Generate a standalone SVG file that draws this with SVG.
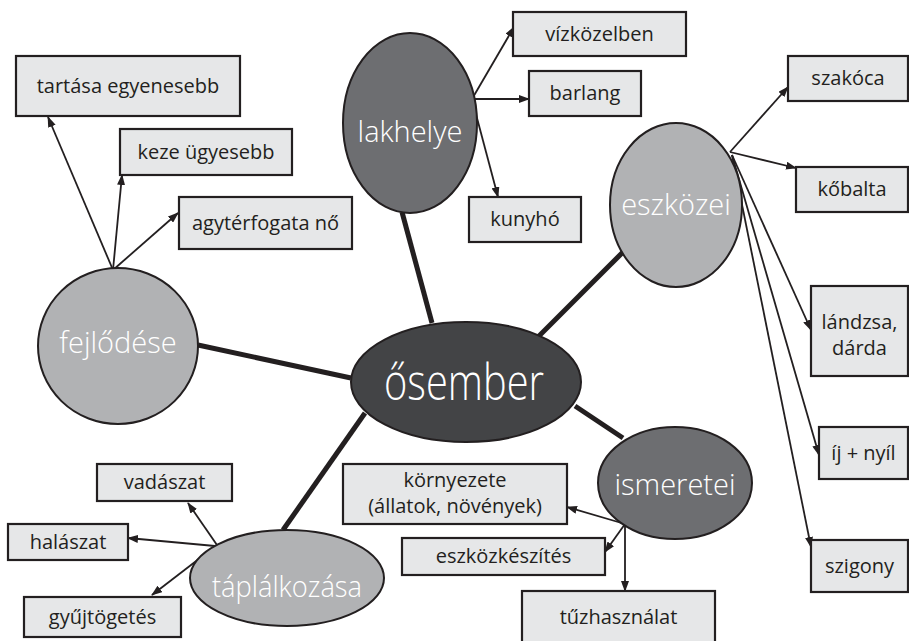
<svg xmlns="http://www.w3.org/2000/svg" width="909" height="641" viewBox="0 0 909 641">
  <style>
    .thick { stroke: #231f20; stroke-width: 5; fill: none; }
    .arrow { stroke: #231f20; stroke-width: 1.8; fill: none; marker-end: url(#head); }
    .box { fill: #e6e7e8; stroke: #231f20; stroke-width: 2.2; }
    .blabel { font-family: "Open Sans", "Noto Sans", sans-serif; font-size: 20px; fill: #231f20; text-anchor: middle; }
    .node { stroke: #231f20; stroke-width: 2; }
    .dark { fill: #6d6e71; }
    .light { fill: #b1b2b4; }
    .core { fill: #434446; }
    .nlabel { font-family: "Open Sans", "Noto Sans", sans-serif; font-size: 29px; fill: #ffffff; text-anchor: middle; font-weight: 300; }
    .title { font-size: 50px; }
  </style>
  <defs>
    <marker id="head" markerUnits="userSpaceOnUse" markerWidth="11" markerHeight="8" refX="10" refY="4" orient="auto">
      <path d="M0,0 L11,4 L0,8 z" fill="#231f20"/>
    </marker>
  </defs>
  <rect width="909" height="641" fill="#ffffff"/>

  <!-- connectors -->
  <g id="connectors">
    <line class="thick" x1="198" y1="345" x2="351" y2="378"/>
    <line class="thick" x1="402" y1="212" x2="432" y2="323"/>
    <line class="thick" x1="626" y1="249" x2="537" y2="338"/>
    <line class="thick" x1="623" y1="438" x2="575" y2="406"/>
    <line class="thick" x1="283" y1="530" x2="365" y2="413"/>

    <line class="arrow" x1="113" y1="270" x2="48" y2="117"/>
    <line class="arrow" x1="113" y1="270" x2="122" y2="175"/>
    <line class="arrow" x1="113" y1="270" x2="178" y2="213"/>

    <line class="arrow" x1="472" y1="99" x2="514" y2="27"/>
    <line class="arrow" x1="472" y1="99" x2="529" y2="99"/>
    <line class="arrow" x1="473" y1="103" x2="498" y2="197"/>

    <line class="arrow" x1="730" y1="152" x2="788" y2="87"/>
    <line class="arrow" x1="730" y1="152" x2="796" y2="168"/>
    <line class="arrow" x1="732" y1="155" x2="811" y2="330"/>
    <line class="arrow" x1="732" y1="155" x2="819" y2="455"/>
    <line class="arrow" x1="732" y1="155" x2="811" y2="547"/>

    <line class="arrow" x1="625" y1="524" x2="567" y2="507"/>
    <line class="arrow" x1="625" y1="524" x2="605" y2="552"/>
    <line class="arrow" x1="625" y1="524" x2="625" y2="591"/>

    <line class="arrow" x1="217" y1="545" x2="188" y2="503"/>
    <line class="arrow" x1="215" y1="546" x2="128" y2="538"/>
    <line class="arrow" x1="217" y1="545" x2="152" y2="595"/>
  </g>

  <!-- main topic -->
  <g id="osember">
    <ellipse class="node core" cx="466" cy="382" rx="115" ry="60"/>
    <text class="nlabel title" x="464" y="400" textLength="160" lengthAdjust="spacingAndGlyphs">ősember</text>
  </g>

  <!-- sub topics -->
  <g id="fejlodese">
    <ellipse class="node light" cx="118" cy="346" rx="80" ry="78"/>
    <text class="nlabel" x="118" y="353">fejlődése</text>
  </g>
  <g id="lakhelye">
    <ellipse class="node dark" cx="410" cy="123" rx="67" ry="90"/>
    <text class="nlabel" x="410" y="142">lakhelye</text>
  </g>
  <g id="eszkozei">
    <ellipse class="node light" cx="676" cy="205" rx="66" ry="82"/>
    <text class="nlabel" x="676" y="215">eszközei</text>
  </g>
  <g id="ismeretei">
    <ellipse class="node dark" cx="675" cy="483" rx="77" ry="56"/>
    <text class="nlabel" x="675" y="495">ismeretei</text>
  </g>
  <g id="taplalkozasa">
    <ellipse class="node light" cx="287" cy="578" rx="97" ry="48"/>
    <text class="nlabel" x="287" y="597" textLength="150" lengthAdjust="spacingAndGlyphs">táplálkozása</text>
  </g>

  <!-- leaves: fejlődése -->
  <g id="tartasa">
    <rect class="box" x="16" y="56" width="224" height="60"/>
    <text class="blabel" x="128" y="93">tartása egyenesebb</text>
  </g>
  <g id="keze">
    <rect class="box" x="120" y="129" width="172" height="46"/>
    <text class="blabel" x="206" y="159">keze ügyesebb</text>
  </g>
  <g id="agyterfogata">
    <rect class="box" x="179" y="197" width="173" height="52"/>
    <text class="blabel" x="265.5" y="230">agytérfogata nő</text>
  </g>

  <!-- leaves: lakhelye -->
  <g id="vizkozelben">
    <rect class="box" x="513" y="12" width="173" height="44"/>
    <text class="blabel" x="599.5" y="41">vízközelben</text>
  </g>
  <g id="barlang">
    <rect class="box" x="529" y="71" width="112" height="45"/>
    <text class="blabel" x="585" y="100">barlang</text>
  </g>
  <g id="kunyho">
    <rect class="box" x="469" y="197" width="112" height="45"/>
    <text class="blabel" x="525" y="226">kunyhó</text>
  </g>

  <!-- leaves: eszközei -->
  <g id="szakoca">
    <rect class="box" x="788" y="56" width="120" height="45"/>
    <text class="blabel" x="848" y="85">szakóca</text>
  </g>
  <g id="kobalta">
    <rect class="box" x="796" y="167" width="112" height="45"/>
    <text class="blabel" x="852" y="196">kőbalta</text>
  </g>
  <g id="landzsa">
    <rect class="box" x="811" y="286" width="97" height="90"/>
    <text class="blabel" x="859.5" y="329">lándzsa,</text>
    <text class="blabel" x="859.5" y="355">dárda</text>
  </g>
  <g id="ij">
    <rect class="box" x="819" y="427" width="89" height="52"/>
    <text class="blabel" x="863.5" y="460">íj + nyíl</text>
  </g>
  <g id="szigony">
    <rect class="box" x="811" y="540" width="97" height="52"/>
    <text class="blabel" x="859.5" y="573">szigony</text>
  </g>

  <!-- leaves: ismeretei -->
  <g id="kornyezete">
    <rect class="box" x="343" y="464" width="224" height="60"/>
    <text class="blabel" x="455" y="487">környezete</text>
    <text class="blabel" x="455" y="513">(állatok, növények)</text>
  </g>
  <g id="eszkozkeszites">
    <rect class="box" x="402" y="538" width="203" height="37"/>
    <text class="blabel" x="503.5" y="563">eszközkészítés</text>
  </g>
  <g id="tuzhasznalat">
    <rect class="box" x="522" y="591" width="193" height="60"/>
    <text class="blabel" x="618.5" y="624">tűzhasználat</text>
  </g>

  <!-- leaves: táplálkozása -->
  <g id="vadaszat">
    <rect class="box" x="97" y="464" width="135" height="37"/>
    <text class="blabel" x="164.5" y="489">vadászat</text>
  </g>
  <g id="halaszat">
    <rect class="box" x="8" y="524" width="120" height="36"/>
    <text class="blabel" x="68" y="549">halászat</text>
  </g>
  <g id="gyujtogetes">
    <rect class="box" x="24" y="597" width="157" height="40"/>
    <text class="blabel" x="102.5" y="624">gyűjtögetés</text>
  </g>
</svg>
